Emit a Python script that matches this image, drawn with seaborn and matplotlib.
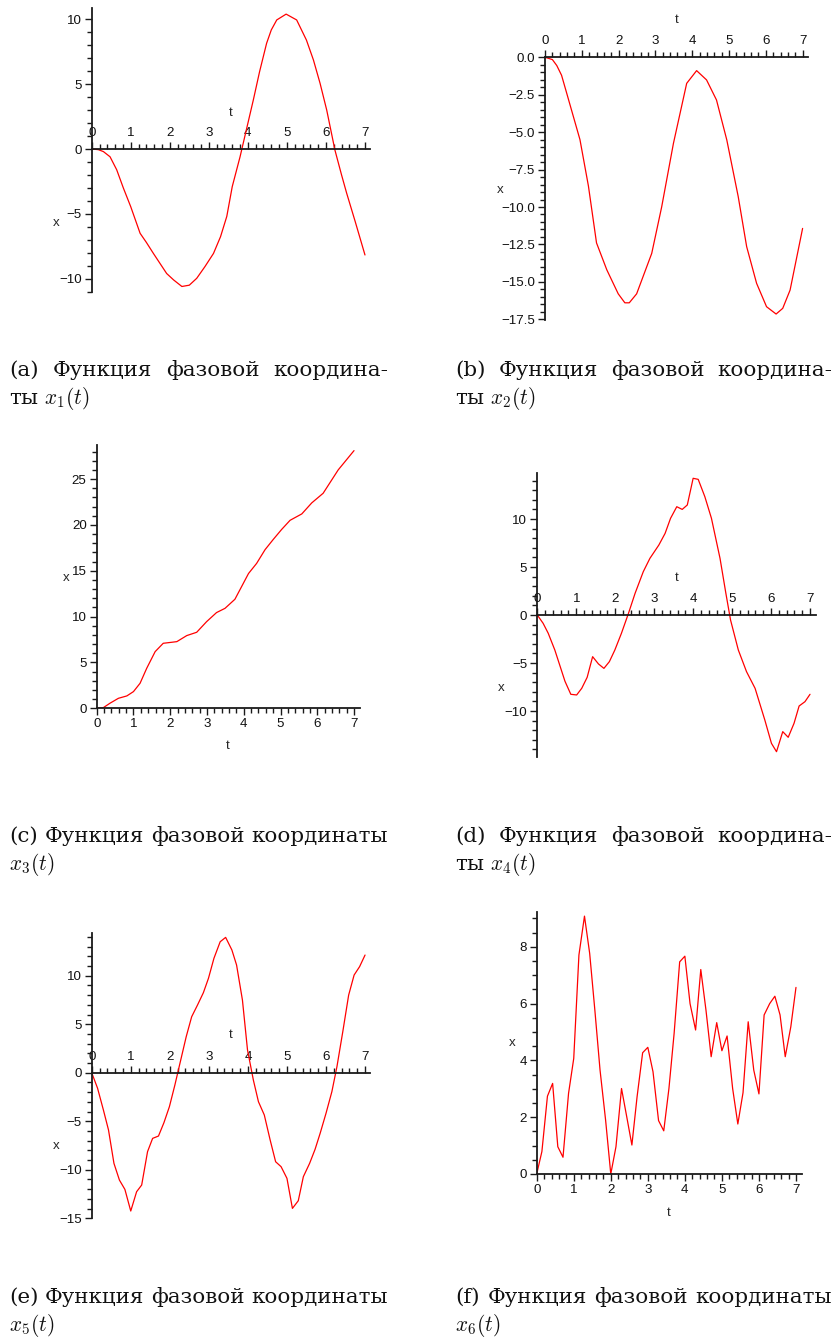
import numpy as np
import pandas as pd
import matplotlib
matplotlib.use("Agg")
import matplotlib.pyplot as plt
import seaborn as sns
from matplotlib.ticker import MultipleLocator, FuncFormatter

W, H = 834, 1343

# ── Data ──────────────────────────────────────────────────────
t_a = [0, 0.17, 0.3, 0.47, 0.64, 0.81, 1.0, 1.24, 1.4, 1.58, 1.92, 2.1, 2.31, 2.5,
       2.69, 2.9, 3.12, 3.3, 3.46, 3.6, 3.8, 4.14, 4.3, 4.48, 4.6, 4.74, 4.98, 5.25,
       5.5, 5.68, 5.85, 6.02, 6.23, 6.4, 6.53, 6.75, 7.0]
x_a = [0, -0.05, -0.2, -0.6, -1.6, -3.0, -4.45, -6.5, -7.2, -8.05, -9.6, -10.1,
       -10.6, -10.5, -9.97, -9.07, -8.05, -6.76, -5.2, -2.9, -0.6, 3.78, 5.96, 8.15,
       9.18, 9.95, 10.4, 9.95, 8.4, 6.86, 5.06, 3.0, -0.08, -2.0, -3.4, -5.6, -8.17]

t_b = [0, 0.2, 0.32, 0.45, 0.59, 0.95, 1.18, 1.40, 1.68, 1.99, 2.17, 2.29, 2.49, 2.90,
       3.17, 3.49, 3.85, 4.12, 4.39, 4.66, 4.94, 5.25, 5.48, 5.75, 6.02, 6.28, 6.46,
       6.66, 7.0]
x_b = [0, -0.15, -0.55, -1.2, -2.4, -5.5, -8.6, -12.4, -14.2, -15.8, -16.4, -16.4,
       -15.8, -13.1, -10.0, -5.75, -1.74, -0.89, -1.51, -2.85, -5.52, -9.3, -12.65,
       -15.1, -16.66, -17.15, -16.77, -15.55, -11.43]

t_c = [0, 0.18, 0.36, 0.59, 0.82, 1.0, 1.18, 1.36, 1.59, 1.81, 2.04, 2.18, 2.45,
       2.72, 2.99, 3.26, 3.49, 3.76, 4.13, 4.35, 4.58, 4.8, 5.03, 5.26, 5.58, 5.85,
       6.16, 6.57, 7.0]
x_c = [0, 0.07, 0.55, 1.09, 1.35, 1.82, 2.73, 4.36, 6.18, 7.09, 7.2, 7.27, 7.93,
       8.29, 9.45, 10.44, 10.9, 11.89, 14.7, 15.8, 17.3, 18.4, 19.5, 20.5, 21.2,
       22.4, 23.45, 26.0, 28.1]

t_d = [0, 0.15, 0.28, 0.45, 0.71, 0.86, 1.01, 1.14, 1.28, 1.42, 1.57, 1.71, 1.85,
       1.99, 2.16, 2.34, 2.51, 2.72, 2.89, 3.12, 3.28, 3.42, 3.58, 3.72, 3.85, 4.0,
       4.13, 4.30, 4.47, 4.69, 4.84, 4.96, 5.16, 5.37, 5.59, 5.84, 6.01, 6.14, 6.30,
       6.44, 6.59, 6.72, 6.87, 7.0]
x_d = [0, -0.87, -1.9, -3.65, -6.9, -8.26, -8.33, -7.64, -6.49, -4.34, -5.1, -5.56,
       -4.86, -3.65, -1.9, 0.17, 2.26, 4.51, 5.9, 7.29, 8.5, 10.07, 11.28, 11.0,
       11.46, 14.24, 14.13, 12.33, 10.07, 5.9, 2.26, -0.52, -3.65, -5.9, -7.64,
       -10.94, -13.37, -14.24, -12.15, -12.74, -11.28, -9.48, -9.03, -8.26]

t_e = [0, 0.15, 0.30, 0.43, 0.57, 0.71, 0.85, 1.0, 1.15, 1.28, 1.43, 1.56, 1.71,
       1.85, 1.99, 2.13, 2.28, 2.42, 2.56, 2.71, 2.86, 2.99, 3.13, 3.29, 3.43, 3.59,
       3.71, 3.86, 3.99, 4.14, 4.27, 4.42, 4.57, 4.71, 4.85, 5.0, 5.14, 5.29, 5.42,
       5.58, 5.72, 5.85, 6.0, 6.15, 6.28, 6.43, 6.58, 6.72, 6.86, 7.0]
x_e = [0, -1.6, -3.85, -5.9, -9.35, -11.07, -12.03, -14.26, -12.27, -11.58, -8.14,
       -6.77, -6.53, -5.15, -3.5, -1.27, 1.31, 3.71, 5.77, 6.98, 8.25, 9.73, 11.79,
       13.5, 13.95, 12.65, 11.1, 7.49, 2.34, -0.76, -2.99, -4.36, -6.94, -9.18,
       -9.69, -10.89, -13.99, -13.2, -10.72, -9.35, -7.9, -6.25, -4.19, -1.96, 0.62,
       4.23, 8.0, 10.07, 10.93, 12.13]

t_f = [0, 0.14, 0.29, 0.43, 0.57, 0.71, 0.86, 1.0, 1.14, 1.29, 1.43, 1.57, 1.71,
       1.86, 2.0, 2.14, 2.29, 2.43, 2.57, 2.71, 2.86, 3.0, 3.14, 3.29, 3.43, 3.57,
       3.71, 3.86, 4.0, 4.14, 4.29, 4.43, 4.57, 4.71, 4.86, 5.0, 5.14, 5.29, 5.43,
       5.57, 5.71, 5.86, 6.0, 6.14, 6.29, 6.43, 6.57, 6.71, 6.86, 7.0]
x_f = [0, 0.79, 2.74, 3.19, 0.96, 0.59, 2.84, 4.07, 7.71, 9.08, 7.77, 5.77, 3.66,
       1.9, 0.0, 0.96, 3.01, 2.02, 1.02, 2.72, 4.27, 4.46, 3.6, 1.88, 1.52, 3.01,
       4.95, 7.47, 7.67, 6.0, 5.07, 7.2, 5.77, 4.13, 5.33, 4.34, 4.86, 3.01, 1.76,
       2.86, 5.36, 3.66, 2.82, 5.6, 6.0, 6.26, 5.6, 4.13, 5.18, 6.57]

captions = [
    (["(a)", "Функция", "фазовой", "координа-"], "ты $x_1(t)$"),
    (["(b)", "Функция", "фазовой", "координа-"], "ты $x_2(t)$"),
    (["(c)", "Функция", "фазовой", "координаты"], "$x_3(t)$"),
    (["(d)", "Функция", "фазовой", "координа-"], "ты $x_4(t)$"),
    (["(e)", "Функция", "фазовой", "координаты"], "$x_5(t)$"),
    (["(f)", "Функция", "фазовой", "координаты"], "$x_6(t)$"),
]

# ── Style ─────────────────────────────────────────────────────
sns.set_style("white")
plt.rcParams["font.family"] = ["Liberation Sans", "DejaVu Sans"]
plt.rcParams["mathtext.fontset"] = "cm"
AX_COL = "#1a1a1a"
TICK_FS = 9.6

fig = plt.figure(figsize=(W / 100, H / 100), dpi=100)


def minus(fmt):
    return FuncFormatter(lambda v, p: (fmt % v).replace("-", "\u2212"))


def panel(t, x, origin, st, sx, tmax, ylim, ymaj, ymin, fmt, tlab, xlab):
    x0, y0 = origin
    lo, hi = ylim
    ax = fig.add_axes([x0 / W, 1 - (y0 - lo * sx) / H, tmax * st / W, (hi - lo) * sx / H])
    ax.set_facecolor("none")
    df = pd.DataFrame({"t": t, "x": x})
    sns.lineplot(data=df, x="t", y="x", ax=ax, color="red", lw=0.9, errorbar=None)
    ax.set_xlim(0, tmax)
    ax.set_ylim(lo, hi)

    for s in ax.spines.values():
        s.set_visible(False)
    side = "top" if lo < 0 else "bottom"
    for s in ("left", side):
        ax.spines[s].set_visible(True)
        ax.spines[s].set_color(AX_COL)
        ax.spines[s].set_linewidth(1.3)
    ax.spines[side].set_position(("data", 0))
    ax.xaxis.set_ticks_position(side)
    ax.yaxis.set_ticks_position("left")

    ax.xaxis.set_major_locator(MultipleLocator(1))
    ax.xaxis.set_minor_locator(MultipleLocator(0.2))
    ax.yaxis.set_major_locator(MultipleLocator(ymaj))
    ax.yaxis.set_minor_locator(MultipleLocator(ymin))
    ax.xaxis.set_major_formatter(minus("%d"))
    ax.yaxis.set_major_formatter(minus(fmt))
    ax.tick_params(which="major", length=5.2, width=1.0, color=AX_COL,
                   labelsize=TICK_FS, pad=2, labelcolor="#111")
    ax.tick_params(which="minor", length=3.7, width=1.0, color=AX_COL)

    ax.set_xlabel("t", fontsize=TICK_FS)
    ax.set_ylabel("x", fontsize=TICK_FS, rotation=0)
    ax.xaxis.set_label_coords(tlab[0] / W, 1 - tlab[1] / H, transform=fig.transFigure)
    ax.yaxis.set_label_coords(xlab[0] / W, 1 - xlab[1] / H, transform=fig.transFigure)
    ax.xaxis.label.set_va("center")
    ax.yaxis.label.set_va("center")
    ax.yaxis.label.set_ha("center")
    return ax


panel(t_a, x_a, (91.7, 149), 39.04, 12.97, 7.12, (-11.0, 10.9), 5, 1, "%d",
      (230.7, 112.7), (56.7, 222.7))
panel(t_b, x_b, (545, 57.3), 36.8, 14.97, 7.15, (-17.52, 0), 2.5, 0.5, "%.1f",
      (676.7, 20), (500, 190))
panel(t_c, x_c, (96.7, 708.3), 36.76, 9.17, 7.16, (0, 28.7), 5, 1, "%d",
      (228, 746), (66.7, 578))
panel(t_d, x_d, (537.3, 615), 38.96, 9.6, 7.15, (-14.76, 14.76), 5, 1, "%d",
      (676.7, 578.3), (501.7, 688.3))
panel(t_e, x_e, (91.7, 1072.7), 39.05, 9.7, 7.13, (-15.0, 14.4), 5, 1, "%d",
      (230.7, 1035), (56.7, 1146))
panel(t_f, x_f, (536.7, 1174), 37.04, 28.4, 7.15, (0, 9.23), 2, 0.5, "%d",
      (668.3, 1213.3), (512.7, 1043.3))

# ── Captions (justified first line, like LaTeX) ───────────────
CAP = 15.4
renderer = fig.canvas.get_renderer()


def caption(words, second, x0, x1, base):
    texts = [fig.text(0, 1 - base / H, w, fontsize=CAP, family="DejaVu Serif",
                      va="baseline", color="#111") for w in words]
    widths = [tx.get_window_extent(renderer).width for tx in texts]
    gap = (x1 - x0 - sum(widths)) / (len(words) - 1)
    pos = x0
    for tx, w in zip(texts, widths):
        tx.set_x(pos / W)
        pos += w + gap
    fig.text(x0 / W, 1 - (base + 28) / H, second, fontsize=CAP, family="DejaVu Serif",
             va="baseline", color="#111")


cols = [(9, 388), (455, 832)]
rows = [376, 842, 1303]
for i, (words, second) in enumerate(captions):
    x0, x1 = cols[i % 2]
    caption(words, second, x0, x1, rows[i // 2])

fig.savefig("out.png", dpi=100)
